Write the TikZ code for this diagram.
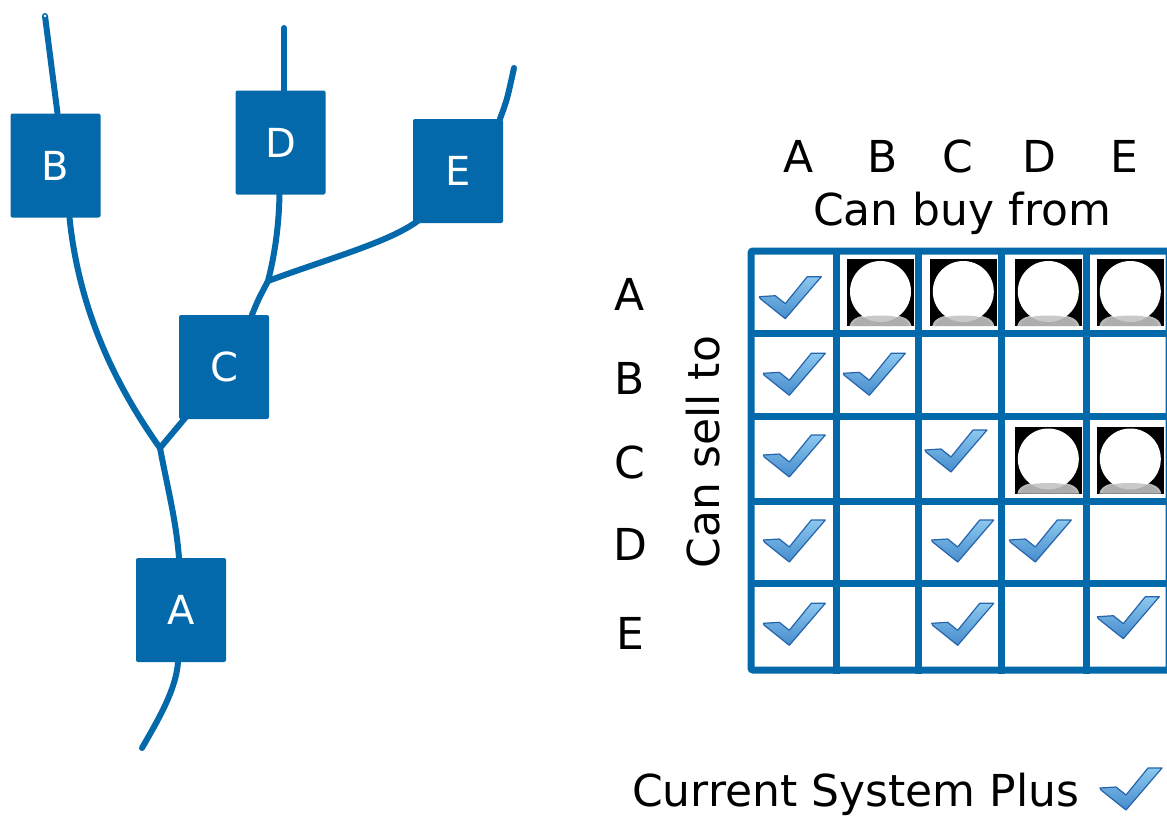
\documentclass[tikz,border=0pt]{standalone}
\usepackage{fontspec}
\setmainfont{DejaVu Sans}
\begin{document}
\begin{tikzpicture}[x=1pt,y=-1pt,
  tbox/.style={fill=mainblue, rounded corners=2pt, minimum width=90pt, minimum height=104pt,
    text=white, font=\fontsize{40}{48}\selectfont, inner sep=0pt},
  branch/.style={draw=mainblue, line width=6pt},
  gridline/.style={draw=mainblue, line width=7pt},
  lbl/.style={font=\fontsize{44}{52}\selectfont, text=black, inner sep=0pt, anchor=base},
  tick/.pic={
    \shade[top color=tickhi, bottom color=ticklo, draw=tickedge, line width=1.2pt, line join=round]
      (-32,0) -- (-16,-1) -- (-6,7) -- (16,-20) -- (30,-20) -- (-6,22) -- (-31,2) -- cycle;
  },
  noimg/.pic={
    \begin{scope}
      \clip (-33.5,-33.5) rectangle (33.5,33.5);
      \fill[black] (-33.5,-33.5) rectangle (33.5,33.5);
      \fill[gray!55] (-31,33.5) .. controls (-29,25) and (-20,22) .. (0,22)
        .. controls (20,22) and (29,25) .. (31,33.5) -- cycle;
      \fill[white] (0,-1) circle (30.5);
      \fill[gray!70, opacity=0.6] (-28,33.5) .. controls (-26,26) and (-18,23) .. (0,23)
        .. controls (18,23) and (26,26) .. (28,33.5) -- cycle;
    \end{scope}
  }
]
\definecolor{mainblue}{RGB}{4,105,170}
\definecolor{tickhi}{RGB}{140,200,238}
\definecolor{ticklo}{RGB}{70,140,205}
\definecolor{tickedge}{RGB}{38,100,172}

\useasboundingbox[fill=white] (0,0) rectangle (1167,816);

% ---------- tree ----------
\node[tbox] (B) at (55.5,165.5) {B};
\node[tbox] (D) at (280.5,142.5) {D};
\node[tbox] (E) at (458,171) {E};
\node[tbox] (C) at (224,367) {C};
\node[tbox] (A) at (181,610) {A};

\coordinate (Btop) at (45,16);
\coordinate (j1) at (160,448);
\coordinate (j2) at (268,281);
\coordinate (Aend) at (142,748);
\coordinate (Dtop) at (284,28);
\coordinate (Etop) at (514,68);

\begin{scope}[line cap=round]
\draw[branch] (Btop) -- ([xshift=2pt]B.north);
\draw[branch] ([xshift=14pt]B.south) .. controls (78,300) and (108,375) .. (j1);
\draw[branch] (j1) -- ([xshift=7pt,yshift=2pt]C.south west);
\draw[branch] (j1) .. controls (168,490) and (176,520) .. ([xshift=-2pt]A.north);
\draw[branch] ([xshift=-3pt]A.south) .. controls (176,690) and (158,720) .. (Aend);
\draw[branch] ([xshift=28pt]C.north) .. controls (258,300) .. (j2)
  .. controls (276,250) and (279,220) .. ([xshift=-1pt]D.south);
\draw[branch] (j2) .. controls (330,258) and (390,242) .. ([xshift=6pt,yshift=3pt]E.south west);
\draw[branch] (Dtop) -- ([xshift=3.5pt]D.north);
\draw[branch] ([xshift=42pt]E.north) .. controls (507,100) .. (Etop);
\end{scope}
\fill[white] (Btop) circle (1.5);

% ---------- matrix ----------
\foreach \x/\t in {799/A,883/B,958/C,1039/D,1124/E}
  \node[lbl] (col\t) at (\x,172) {\t};
\node[lbl] (buy) at (962,225) {Can buy from};

\foreach \y/\t in {310/A,394/B,478/C,560/D,649/E}
  \node[lbl] (row\t) at (630,\y) {\t};
\node[lbl, rotate=90] (sell) at (719,452) {Can sell to};

\begin{scope}[line cap=rect]
\foreach \y in {333,416,501,583}
  \draw[gridline] (751,\y) -- (1169,\y);
\foreach \x in {836,918,1001,1086}
  \draw[gridline] (\x,251) -- (\x,670);
\draw[gridline, rounded corners=2pt] (751,251) rectangle (1169,670);
\end{scope}

% black image cells
\foreach \x in {880.5,963.3,1048.3,1130.3}
  \pic at (\x,292.5) {noimg};
\foreach \x in {1048.3,1130.3}
  \pic at (\x,460) {noimg};

% ticks: cell centre plus offset
\pic at (791.3,296.7) {tick};
\pic at (795.3,373.3) {tick};
\pic at (875.3,373.3) {tick};
\pic at (795.3,455) {tick};
\pic at (957,450) {tick};
\pic at (795.3,540) {tick};
\pic at (963.7,540) {tick};
\pic at (1041.3,540) {tick};
\pic at (795.3,623.3) {tick};
\pic at (963.7,623.3) {tick};
\pic at (1129.3,616.7) {tick};

% legend
\node[lbl, anchor=base west] (legend) at (632,806) {Current System Plus};
\pic at (1132,788) {tick};
\end{tikzpicture}
\end{document}
